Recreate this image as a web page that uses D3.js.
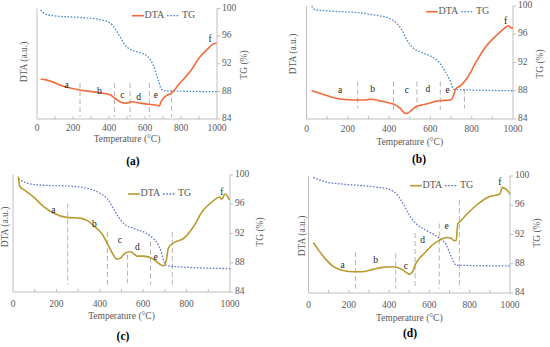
<!DOCTYPE html>
<html>
<head>
<meta charset="utf-8">
<script src="https://cdn.jsdelivr.net/npm/d3@7"></script>
<style>
  body { margin: 0; background: #fff; }
  svg text { font-family: "Liberation Serif", "DejaVu Serif", serif; }
</style>
</head>
<body>
<svg width="550" height="347" font-family="Liberation Serif, DejaVu Serif, serif"></svg>
<script>
// ---- data (temperature in °C, TG in %, DTA in a.u. read on the TG scale) ----
const tempTicks = [0, 200, 400, 600, 800, 1000];
const tgTicks = [84, 88, 92, 96, 100];
const peakNames = ["a", "b", "c", "d", "e", "f"];

const dtaA = [[20,89.8],[44,89.7],[165,88.6],[239,88.2],[350,87.8],[406,87.5],[433,87.0],[470,86.4],[498,86.3],[526,86.5],[572,86.3],[628,86.1],[665,86.0],[680,85.9],[689,86.5],[702,87.0],[720,87.4],[748,87.8],[794,89.2],[850,90.85],[906,93.0],[943,94.0],[975,94.8],[998,95.0]];
const tgA = [[20,99.8],[44,99.2],[90,98.96],[239,98.7],[350,98.4],[406,97.9],[433,97.1],[461,95.9],[489,94.7],[517,94.1],[572,93.6],[617,93.0],[646,91.8],[674,89.6],[692,88.3],[711,88.1],[998,87.96]];
const cutsA = [[239,89.2,84.3],[430,89.2,84.3],[517,89.2,84.3],[624,89.2,84.3],[748,88.2,84.3]];
const peaksA = [[165,88.8],[346,88.0],[474,87.3],[565,87.1],[661,87.3],[961,95.5]];

const dtaB = [[25,88.0],[90,87.4],[171,86.8],[235,86.7],[284,86.7],[316,86.8],[349,86.6],[397,86.3],[430,86.0],[454,85.5],[478,84.8],[486,84.8],[511,85.3],[535,85.8],[559,86.0],[591,86.2],[624,86.5],[656,86.6],[697,86.7],[713,87.4],[721,88.2],[745,88.7],[778,89.8],[818,91.9],[867,94.2],[915,95.7],[948,96.6],[980,97.2],[990,96.9],[1000,96.9]];
const tgB = [[25,100],[40,99.5],[105,99.3],[252,99.05],[333,98.7],[397,98.3],[438,97.5],[462,96.6],[486,95.2],[511,94.2],[559,93.4],[608,92.8],[640,92.1],[672,90.7],[697,89.3],[713,88.2],[1000,88.0]];
const cutsB = [[248,89.3,85.5],[421,89.3,85.3],[535,89.3,85.3],[648,89.3,85.3],[765,88.3,85.5]];
const peaksB = [[163,88.0],[320,88.1],[486,88.0],[588,88.1],[683,88.0],[964,97.8]];

const dtaC = [[25,99.8],[32,98.4],[55,97.9],[94,97.0],[140,95.7],[186,94.8],[247,94.2],[309,94.1],[340,93.8],[378,92.9],[409,92.0],[439,90.4],[462,89.1],[478,88.5],[493,88.6],[516,89.3],[539,89.5],[562,89.1],[570,88.9],[601,88.9],[647,88.5],[677,87.8],[693,87.6],[708,88.6],[716,90.0],[739,90.7],[785,91.3],[831,92.9],[877,95.2],[908,96.1],[933,96.7],[951,97.0],[962,96.7],[977,97.4],[997,96.6]];
const tgC = [[25,99.5],[63,98.9],[140,98.6],[247,98.5],[340,98.2],[401,97.5],[439,96.6],[462,95.4],[485,94.3],[516,93.2],[555,92.7],[616,92.0],[647,91.3],[670,90.4],[685,89.3],[693,88.4],[708,87.6],[785,87.4],[1000,87.2]];
const cutsC = [[252,96.1,85.0],[435,92.2,85.0],[528,89.1,85.2],[634,90.9,85.0],[734,92.2,85.0]];
const peaksC = [[186,95.1],[375,93.25],[493,91.0],[573,90.1],[657,88.7],[962,97.5]];

const dtaD = [[24,90.9],[49,89.9],[83,88.7],[124,87.6],[166,87.1],[216,86.9],[266,86.9],[316,87.2],[366,87.5],[416,87.6],[441,87.5],[466,87.2],[491,86.7],[500,86.55],[516,86.9],[533,88.05],[549,88.7],[574,89.4],[591,89.9],[616,90.6],[649,91.2],[683,91.6],[708,91.5],[724,91.15],[733,91.2],[741,93.5],[749,93.7],[783,94.7],[833,96.0],[899,97.2],[949,97.5],[962,98.45],[974,98.3],[991,97.9],[1000,97.5]];
const tgD = [[24,99.8],[83,99.2],[166,98.9],[333,98.5],[399,98.2],[441,97.4],[474,96.0],[499,94.7],[533,93.5],[583,92.6],[649,91.5],[683,90.6],[708,89.0],[733,87.8],[1000,87.7]];
const cutsD = [[233,89.6,84.6],[433,89.4,84.6],[529,92.2,84.6],[649,93.5,84.6],[749,96.7,84.6]];
const peaksD = [[169,87.7],[333,88.4],[483,87.6],[566,91.2],[686,93.1],[949,99.1]];

// ---- layout ----
const panels = [
  { id: "a", dta: dtaA, tg: tgA, cuts: cutsA, peaks: peaksA,
    x: [37, 217], y: [119, 8.5], tickDy: 10, titleDy: 21, cap: [133, 162],
    dtaLab: [25, 62], tgLab: [245, 65], legend: [132, 15.7],
    dtaColor: "#f26b3a", tgColor: "#4a8ccc" },
  { id: "b", dta: dtaB, tg: tgB, cuts: cutsB, peaks: peaksB,
    x: [306.5, 513], y: [119, 6], tickDy: 11, titleDy: 24, cap: [419, 160],
    dtaLab: [294, 54], tgLab: [541, 64], legend: [426, 11.7],
    dtaColor: "#f26b3a", tgColor: "#4a8ccc" },
  { id: "c", dta: dtaC, tg: tgC, cuts: cutsC, peaks: peaksC,
    x: [13, 230], y: [292, 175], tickDy: 13, titleDy: 25, cap: [123, 337],
    dtaLab: [6, 227], tgLab: [261, 232], legend: [128, 194],
    dtaColor: "#b99a2e", tgColor: "#6476d2" },
  { id: "d", dta: dtaD, tg: tgD, cuts: cutsD, peaks: peaksD,
    x: [308.5, 510], y: [293, 176], tickDy: 13, titleDy: 26, cap: [410, 334],
    dtaLab: [303, 236], tgLab: [538, 233], legend: [410, 185.7],
    dtaColor: "#b99a2e", tgColor: "#6476d2" }
];

const axisColor = "#bfbfbf";
const textColor = "#595959";
const svg = d3.select("svg");

panels.forEach(p => {
  const g = svg.append("g");
  const x = d3.scaleLinear().domain([0, 1000]).range(p.x);
  const y = d3.scaleLinear().domain([84, 100]).range(p.y);

  // axes lines
  g.append("line").attr("x1", p.x[0]).attr("x2", p.x[1]).attr("y1", p.y[0]).attr("y2", p.y[0])
    .attr("stroke", axisColor);
  g.append("line").attr("x1", p.x[0]).attr("x2", p.x[0]).attr("y1", p.y[0]).attr("y2", p.y[1])
    .attr("stroke", axisColor);
  g.append("line").attr("x1", p.x[1]).attr("x2", p.x[1]).attr("y1", p.y[0]).attr("y2", p.y[1])
    .attr("stroke", axisColor);

  // minor ticks on the temperature axis
  g.selectAll(".xt").data(d3.range(100, 1000, 100)).enter().append("line")
    .attr("x1", d => x(d)).attr("x2", d => x(d))
    .attr("y1", p.y[0]).attr("y2", p.y[0] - 3)
    .attr("stroke", axisColor);

  g.selectAll(".xl").data(tempTicks).enter().append("text")
    .attr("x", d => x(d)).attr("y", p.y[0] + p.tickDy)
    .attr("text-anchor", "middle").attr("dominant-baseline", "middle")
    .attr("font-size", 9.5).attr("fill", textColor)
    .text(d => d);

  // TG axis ticks
  g.selectAll(".yt").data(tgTicks).enter().append("line")
    .attr("x1", p.x[1]).attr("x2", p.x[1] + 3)
    .attr("y1", d => y(d)).attr("y2", d => y(d))
    .attr("stroke", axisColor);
  g.selectAll(".yl").data(tgTicks).enter().append("text")
    .attr("x", p.x[1] + 5).attr("y", d => y(d))
    .attr("dominant-baseline", "middle")
    .attr("font-size", 9.5).attr("fill", textColor)
    .text(d => d);

  // axis titles
  g.append("text")
    .attr("x", (p.x[0] + p.x[1]) / 2).attr("y", p.y[0] + p.titleDy)
    .attr("text-anchor", "middle").attr("dominant-baseline", "middle")
    .attr("font-size", 9.5).attr("fill", textColor)
    .text("Temperature (°C)");
  g.append("text")
    .attr("transform", `translate(${p.dtaLab[0]},${p.dtaLab[1]}) rotate(-90)`)
    .attr("text-anchor", "middle").attr("dominant-baseline", "middle")
    .attr("font-size", 9.5).attr("fill", textColor)
    .text("DTA (a.u.)");
  g.append("text")
    .attr("transform", `translate(${p.tgLab[0]},${p.tgLab[1]}) rotate(-90)`)
    .attr("text-anchor", "middle").attr("dominant-baseline", "middle")
    .attr("font-size", 9.5).attr("fill", textColor)
    .text("TG (%)");

  // dashed stage separators
  g.selectAll(".cut").data(p.cuts).enter().append("line")
    .attr("x1", d => x(d[0])).attr("x2", d => x(d[0]))
    .attr("y1", d => y(d[1])).attr("y2", d => y(d[2]))
    .attr("stroke", "#b3b3b3").attr("stroke-width", 1)
    .attr("stroke-dasharray", "5,3");

  const line = d3.line().x(d => x(d[0])).y(d => y(d[1])).curve(d3.curveMonotoneX);

  g.append("path").datum(p.tg).attr("d", line)
    .attr("fill", "none").attr("stroke", p.tgColor)
    .attr("stroke-width", 1.3).attr("stroke-dasharray", "1.6,1.6");
  g.append("path").datum(p.dta).attr("d", line)
    .attr("fill", "none").attr("stroke", p.dtaColor)
    .attr("stroke-width", 1.6);

  // stage letters
  g.selectAll(".pk").data(p.peaks).enter().append("text")
    .attr("x", d => x(d[0])).attr("y", d => y(d[1]))
    .attr("text-anchor", "middle").attr("dominant-baseline", "middle")
    .attr("font-size", 9.5).attr("fill", "#222")
    .text((d, i) => peakNames[i]);

  // legend
  const [lx, ly] = p.legend;
  g.append("line").attr("x1", lx).attr("x2", lx + 12).attr("y1", ly).attr("y2", ly)
    .attr("stroke", p.dtaColor).attr("stroke-width", 1.6);
  g.append("text").attr("x", lx + 12.5).attr("y", ly).attr("dominant-baseline", "middle")
    .attr("font-size", 10).attr("fill", textColor).text("DTA");
  g.append("line").attr("x1", lx + 35).attr("x2", lx + 48).attr("y1", ly).attr("y2", ly)
    .attr("stroke", p.tgColor).attr("stroke-width", 1.3).attr("stroke-dasharray", "1.6,1.6");
  g.append("text").attr("x", lx + 50).attr("y", ly).attr("dominant-baseline", "middle")
    .attr("font-size", 10).attr("fill", textColor).text("TG");

  // panel caption
  g.append("text").attr("x", p.cap[0]).attr("y", p.cap[1])
    .attr("text-anchor", "middle").attr("dominant-baseline", "middle")
    .attr("font-size", 11.5).attr("fill", "#000").attr("font-weight", "bold")
    .text(`(${p.id})`);
});
</script>
</body>
</html>
